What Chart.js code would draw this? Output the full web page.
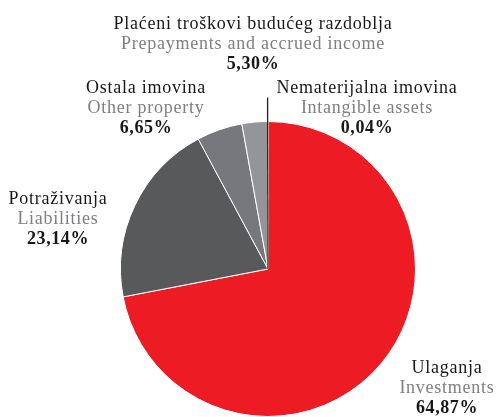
<!DOCTYPE html>
<html>
<head>
<meta charset="utf-8">
<script src="https://cdn.jsdelivr.net/npm/chart.js@4.4.1/dist/chart.umd.min.js"></script>
<style>
  html, body { margin: 0; padding: 0; background: #fff; }
  #wrap { width: 496px; height: 417px; position: relative; overflow: hidden; }
  .lbl {
    position: absolute;
    width: 340px;
    margin-left: -170px;
    text-align: center;
    font-family: "Liberation Serif", "Times New Roman", serif;
    font-size: 18px;
    letter-spacing: 0.75px;
    line-height: 19.8px;
    color: #1a1718;
    white-space: nowrap;
  }
  .lbl .en { color: #7d7f82; }
  .lbl .pct { font-weight: bold; letter-spacing: 0.6px; }
</style>
</head>
<body>
<div id="wrap"><canvas id="assetsChart" width="496" height="417"></canvas></div>
<script>
// categories, clockwise from 12 o'clock
const namesHr = ["Ulaganja", "Potraživanja", "Ostala imovina", "Plaćeni troškovi budućeg razdoblja", "Nematerijalna imovina"];
const namesEn = ["Investments", "Liabilities", "Other property", "Prepayments and accrued income", "Intangible assets"];
// percentages as printed on the chart
const printedShares = ["64,87%", "23,14%", "6,65%", "5,30%", "0,04%"];
// slice sizes as they are drawn in the picture (the printed figures don't match the drawn angles)
const sliceShares = [72.0, 20.2, 5.0, 2.8, 0.04];
const sliceColors = ["#ed1c24", "#58595b", "#77787b", "#939598", "#231f20"];

// label block centres (x) and first baseline (y)
const labelSpots = [
  { x: 447, y: 372 },
  { x: 58, y: 203 },
  { x: 146, y: 92 },
  { x: 253, y: 28 },
  { x: 367, y: 92 }
];

const wrap = document.getElementById("wrap");
labelSpots.forEach((p, i) => {
  const div = document.createElement("div");
  div.className = "lbl";
  div.style.left = p.x + "px";
  div.style.top = (p.y - 14) + "px";
  div.innerHTML = "<div>" + namesHr[i] + "</div><div class='en'>" + namesEn[i] + "</div><div class='pct'>" + printedShares[i] + "</div>";
  wrap.appendChild(div);
});

const leaderPlugin = {
  id: "leader",
  afterDraw(chart) {
    const ctx = chart.ctx;
    // leader line for the tiny slice
    const arc = chart.getDatasetMeta(0).data[4];
    const a = arc.startAngle;
    ctx.save();
    ctx.strokeStyle = "#231f20";
    ctx.lineWidth = 1.3;
    ctx.beginPath();
    ctx.moveTo(arc.x, arc.y);
    ctx.lineTo(arc.x + Math.cos(a) * (arc.outerRadius + 24), arc.y + Math.sin(a) * (arc.outerRadius + 24));
    ctx.stroke();
    ctx.restore();
  }
};

new Chart(document.getElementById("assetsChart").getContext("2d"), {
  type: "pie",
  data: {
    labels: namesHr,
    datasets: [
      {
        data: sliceShares,
        backgroundColor: sliceColors,
        borderColor: "#ffffff",
        borderWidth: 1,
      },
    ],
  },
  options: {
    responsive: false,
    animation: false,
    rotation: 0,
    layout: {
      padding: { left: 120, right: 80, top: 121, bottom: 0 },
    },
    plugins: {
      legend: { display: false },
      tooltip: { enabled: false },
    },
  },
  plugins: [leaderPlugin],
});
</script>
</body>
</html>
